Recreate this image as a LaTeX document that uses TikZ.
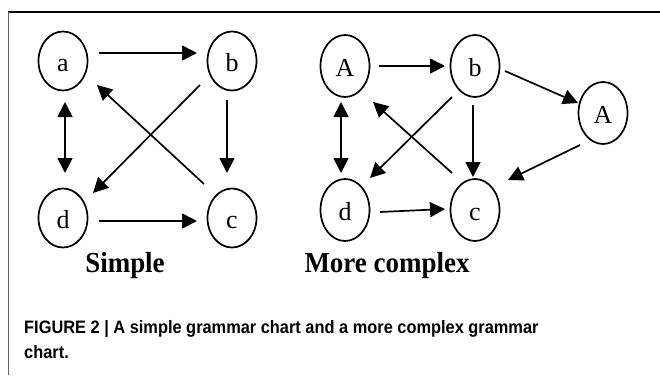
\documentclass[tikz,border=0pt]{standalone}
\usepackage{fontspec}
\setmainfont{Liberation Serif}
\newfontfamily\capfont[FakeStretch=0.91]{Liberation Sans}
\newfontfamily\titlefont[FakeStretch=0.93]{Liberation Serif}
\usetikzlibrary{arrows.meta,shapes.geometric}
\begin{document}
\begin{tikzpicture}[x=1pt,y=-1pt,
  state/.style={draw,line width=1.7pt,ellipse,minimum width=49pt,minimum height=59pt,inner sep=0pt,text height=21pt,text depth=0pt,font=\fontsize{26}{26}\selectfont},
  stateR/.style={state,minimum height=62pt},
  conn/.style={line width=1.7pt,-{Triangle[length=15pt,width=15pt]}},
  bconn/.style={line width=1.7pt,{Triangle[length=15pt,width=15pt]}-{Triangle[length=15pt,width=15pt]}},
  title/.style={font=\titlefont\fontsize{29}{29}\selectfont\bfseries,inner sep=0pt},
  caption/.style={anchor=base west,inner sep=0pt,font=\capfont\bfseries\fontsize{18}{24}\selectfont}]
\useasboundingbox (0,0) rectangle (660,375);
\draw[line width=1.3pt] (8,12) -- (660,12);
\draw[line width=1pt,black!60] (8,12) -- (8,375);
% left graph
\node[state] (a) at (63,61) {a};
\node[state] (b) at (232,61) {b};
\node[state] (d) at (63,218) {d};
\node[state] (c) at (232,218) {c};
\draw[conn] ([shift={(36,-8)}]a.center) -- ([shift={(-35,-8)}]b.center);
\draw[conn] ([shift={(-5,39)}]b.center) -- ([shift={(-5,-45)}]c.center);
\draw[bconn] ([shift={(2,41)}]a.center) -- ([shift={(2,-45)}]d.center);
\draw[conn] ([shift={(36,3)}]d.center) -- ([shift={(-35,3)}]c.center);
\draw[conn] ([shift={(-32,24)}]b.center) -- ([shift={(30,-25)}]d.center);
\draw[conn] ([shift={(-28,-34)}]c.center) -- ([shift={(34,24)}]a.center);
% right graph
\node[stateR] (A1) at (345,66) {A};
\node[stateR] (b2) at (475,66) {b};
\node[stateR] (A2) at (603,113) {A};
\node[stateR] (d2) at (345,210) {d};
\node[stateR] (c2) at (475,210) {c};
\draw[conn] ([shift={(34,0)}]A1.center) -- ([shift={(-30,0)}]b2.center);
\draw[conn] ([shift={(30,5)}]b2.center) -- ([shift={(-25,-10)}]A2.center);
\draw[conn] ([shift={(-23,32)}]A2.center) -- ([shift={(33,-30)}]c2.center);
\draw[conn] ([shift={(-2,39)}]b2.center) -- ([shift={(-2,-33)}]c2.center);
\draw[bconn] ([shift={(-4,36)}]A1.center) -- ([shift={(-4,-37)}]d2.center);
\draw[conn] ([shift={(35,2)}]d2.center) -- ([shift={(-30,-1)}]c2.center);
\draw[conn] ([shift={(-23,31)}]b2.center) -- ([shift={(25,-32)}]d2.center);
\draw[conn] ([shift={(-23,-37)}]c2.center) -- ([shift={(28,36)}]A1.center);
% titles
\node[title] (t1) at (125,266) {Simple};
\node[title] (t2) at (387,266) {More complex};
% caption
\node[caption] (cap1) at (24,333) {FIGURE 2 | A simple grammar chart and a more complex grammar};
\node[caption] (cap2) at (24,358) {chart.};
\end{tikzpicture}
\end{document}
